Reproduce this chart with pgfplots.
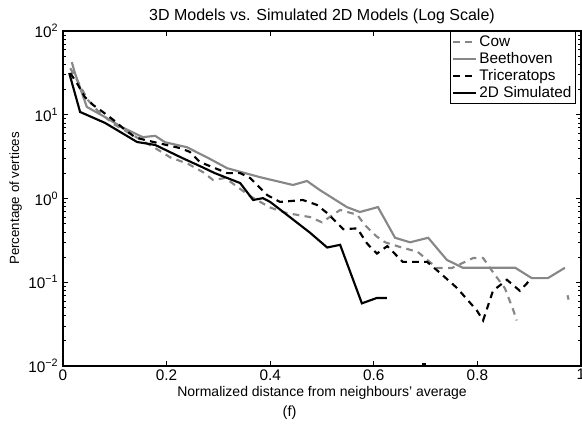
\documentclass[border=0pt]{standalone}
\usepackage{pgfplots}
\pgfplotsset{compat=1.18}
\usepackage{fontspec}
\setmainfont{Liberation Sans}
\definecolor{lgray}{RGB}{135,135,135}
\begin{document}
\begin{tikzpicture}
\begin{axis}[
  name=ax,
  scale only axis,
  width=388.5pt, height=251.25pt,
  xmin=0, xmax=1,
  ymode=log, ymin=0.01, ymax=100,
  xtick={0,0.2,0.4,0.6,0.8,1},
  xticklabels={0,0.2,0.4,0.6,0.8,1},
  ytick={0.01,0.1,1,10,100},
  yticklabels={10\textsuperscript{−2},10\textsuperscript{−1},10\textsuperscript{0},10\textsuperscript{1},10\textsuperscript{2}},
  tick align=inside,
  tick pos=both,
  major tick length=4pt,
  minor tick length=2.5pt,
  axis line style={line width=0.9pt},
  every tick/.style={black, line width=0.5pt},
  tick label style={font=\fontsize{11.5}{13}\selectfont},
  xticklabel style={yshift=1pt},
  /pgf/number format/assume math mode=true,
  title={3D Models vs. Simulated 2D Models (Log Scale)},
  title style={font=\fontsize{12}{14}\selectfont, yshift=-4pt},
  xlabel={Normalized distance from neighbours’ average},
  ylabel={Percentage of vertices},
  xlabel style={font=\fontsize{10.5}{12}\selectfont, yshift=2pt},
  ylabel style={font=\fontsize{10}{12}\selectfont, yshift=-2pt},
  legend style={at={(0.99,1)}, anchor=north east, font=\fontsize{11.5}{13}\selectfont,
    draw=black, line width=0.5pt, inner sep=1pt, row sep=-1pt},
  legend cell align=left,
  legend image post style={line width=1.6pt},
]
\addplot[lgray, line width=1.6pt, dashed, dash pattern=on 5pt off 4pt] coordinates {
(0.014,36) (0.027,26) (0.048,15) (0.071,10.5) (0.10,7.6) (0.135,5.7) (0.178,4.0)
(0.207,3.1) (0.241,2.6) (0.270,2.07) (0.290,1.66) (0.313,1.76) (0.361,1.07) (0.40,0.78)
(0.432,0.67) (0.477,0.60) (0.50,0.52) (0.535,0.73) (0.568,0.64) (0.583,0.48) (0.606,0.35)
(0.622,0.30) (0.645,0.27) (0.685,0.23) (0.722,0.148) (0.751,0.148) (0.792,0.195)
(0.811,0.195) (0.830,0.132) (0.853,0.085) (0.869,0.047) (0.876,0.035)};
\addlegendentry{Cow}
\addplot[lgray, line width=1.6pt] coordinates {
(0.017,42.5) (0.023,31.5) (0.046,12.4) (0.081,9.4) (0.114,7.1) (0.154,5.4) (0.178,5.6)
(0.197,4.7) (0.239,4.1) (0.278,3.1) (0.317,2.3) (0.380,1.8) (0.444,1.45) (0.471,1.62)
(0.496,1.26) (0.548,0.79) (0.573,0.69) (0.608,0.79) (0.641,0.34) (0.670,0.30) (0.705,0.34)
(0.741,0.185) (0.772,0.149) (0.873,0.149) (0.905,0.112) (0.936,0.112) (0.969,0.149)};
\addlegendentry{Beethoven}
\addplot[black, line width=1.6pt, dashed, dash pattern=on 5pt off 4pt] coordinates {
(0.014,31.5) (0.029,22.7) (0.042,16.3) (0.058,13.1) (0.077,10.8) (0.097,8.7) (0.116,6.9)
(0.139,5.4) (0.158,5.0) (0.226,4.0) (0.245,3.6) (0.264,2.73) (0.317,2.01) (0.342,2.01)
(0.361,1.76) (0.394,1.10) (0.419,0.91) (0.463,0.96) (0.490,0.84) (0.510,0.67) (0.541,0.43)
(0.568,0.44) (0.587,0.29) (0.606,0.22) (0.626,0.27) (0.656,0.175) (0.703,0.175)
(0.728,0.129) (0.761,0.085) (0.799,0.046) (0.811,0.035) (0.830,0.079) (0.857,0.107)
(0.882,0.079) (0.902,0.107)};
\addlegendentry{Triceratops}
\addplot[black, line width=1.6pt] coordinates {
(0.012,31.5) (0.033,10.8) (0.081,8.0) (0.114,6.05) (0.143,4.73) (0.178,4.36) (0.230,3.05)
(0.268,2.38) (0.293,2.01) (0.342,1.53) (0.367,0.96) (0.386,1.01) (0.400,0.91) (0.438,0.60)
(0.477,0.39) (0.510,0.26) (0.535,0.28) (0.577,0.056) (0.606,0.065) (0.625,0.065)};
\addlegendentry{2D Simulated}
\addplot[lgray, line width=1.6pt, forget plot] coordinates {(0.974,0.070) (0.976,0.062)};
\addplot[black, line width=1.6pt, forget plot] coordinates {(0.694,0.0105) (0.700,0.0105)};
\end{axis}
\node[font=\fontsize{11}{13}\selectfont] at ([shift={(170pt,-35pt)}]ax.south west) {(f)};
\pgfresetboundingbox
\useasboundingbox ([shift={(-47.25pt,-52.5pt)}]ax.south west) rectangle ([shift={(0.75pt,23.25pt)}]ax.north east);
\end{tikzpicture}
\end{document}
